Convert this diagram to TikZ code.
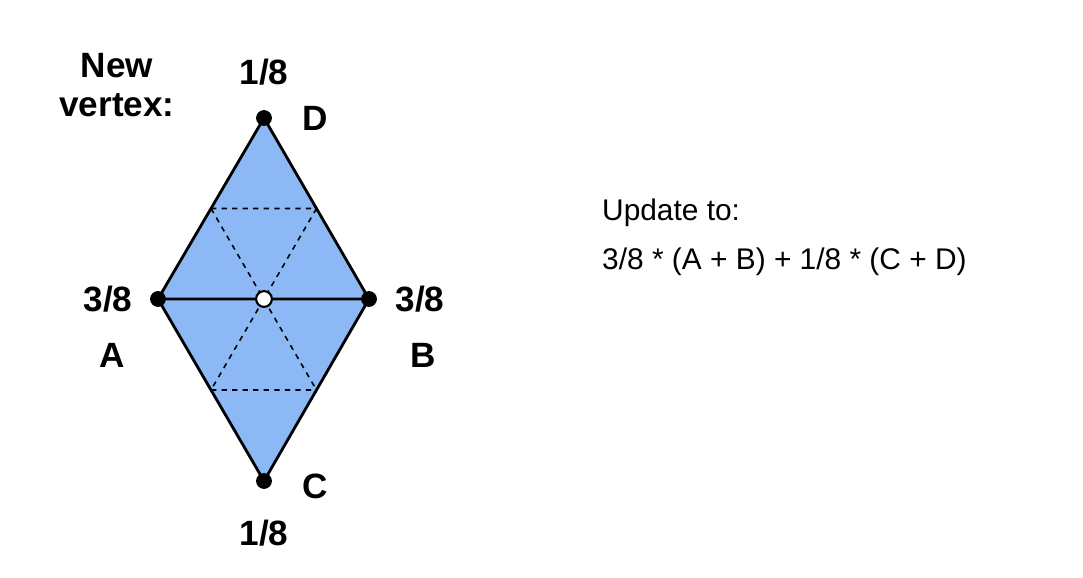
\documentclass[tikz,border=0pt]{standalone}
\usepackage{fontspec}
\setmainfont{Liberation Sans}
\usetikzlibrary{calc}
\begin{document}
\begin{tikzpicture}[x=0.02cm,y=-0.02cm,
  lbl/.style={font=\fontsize{20}{22}\selectfont\bfseries},
  txt/.style={font=\fontsize{17}{20}\selectfont,anchor=west},
  dot/.style={circle,fill=black,inner sep=0pt,minimum size=9pt}]
\useasboundingbox (0,0) rectangle (1083,578);
\definecolor{fillb}{RGB}{140,185,245}
\coordinate (D) at (264,118);
\coordinate (A) at (158,299);
\coordinate (B) at (369,299);
\coordinate (C) at (264,481);
\coordinate (O) at (264,299);
\fill[fillb] (A)--(D)--(B)--(C)--cycle;
\coordinate (mAD) at ($(A)!0.5!(D)$);
\coordinate (mDB) at ($(D)!0.5!(B)$);
\coordinate (mAC) at ($(A)!0.5!(C)$);
\coordinate (mBC) at ($(B)!0.5!(C)$);
\draw[dashed,line width=0.9pt] (mAD)--(mDB) (mAC)--(mBC) (mAD)--(mBC) (mDB)--(mAC);
\draw[line width=1.6pt,line join=round] (A)--(D)--(B)--(C)--cycle (A)--(B);
\node[dot] (nD) at (D) {};
\node[dot] (nA) at (A) {};
\node[dot] (nB) at (B) {};
\node[dot] (nC) at (C) {};
\node[circle,draw=black,fill=white,line width=1.2pt,inner sep=0pt,minimum size=9pt] (nO) at (O) {};
\node[lbl,align=center] (nv) at (117,85) {New\\vertex:};
\node[lbl] (d18) at (264,72) {1/8};
\node[lbl] (dl) at (315,118) {D};
\node[lbl] (a38) at (108,299) {3/8};
\node[lbl] (al) at (112,355) {A};
\node[lbl] (b38) at (420,299) {3/8};
\node[lbl] (bl) at (423,355) {B};
\node[lbl] (cl) at (315,486) {C};
\node[lbl] (c18) at (264,533) {1/8};
\node[txt] (t1) at (596,213) {Update to:};
\node[txt] (t2) at (596,262) {3/8 * (A + B) + 1/8 * (C + D)};
\end{tikzpicture}
\end{document}
